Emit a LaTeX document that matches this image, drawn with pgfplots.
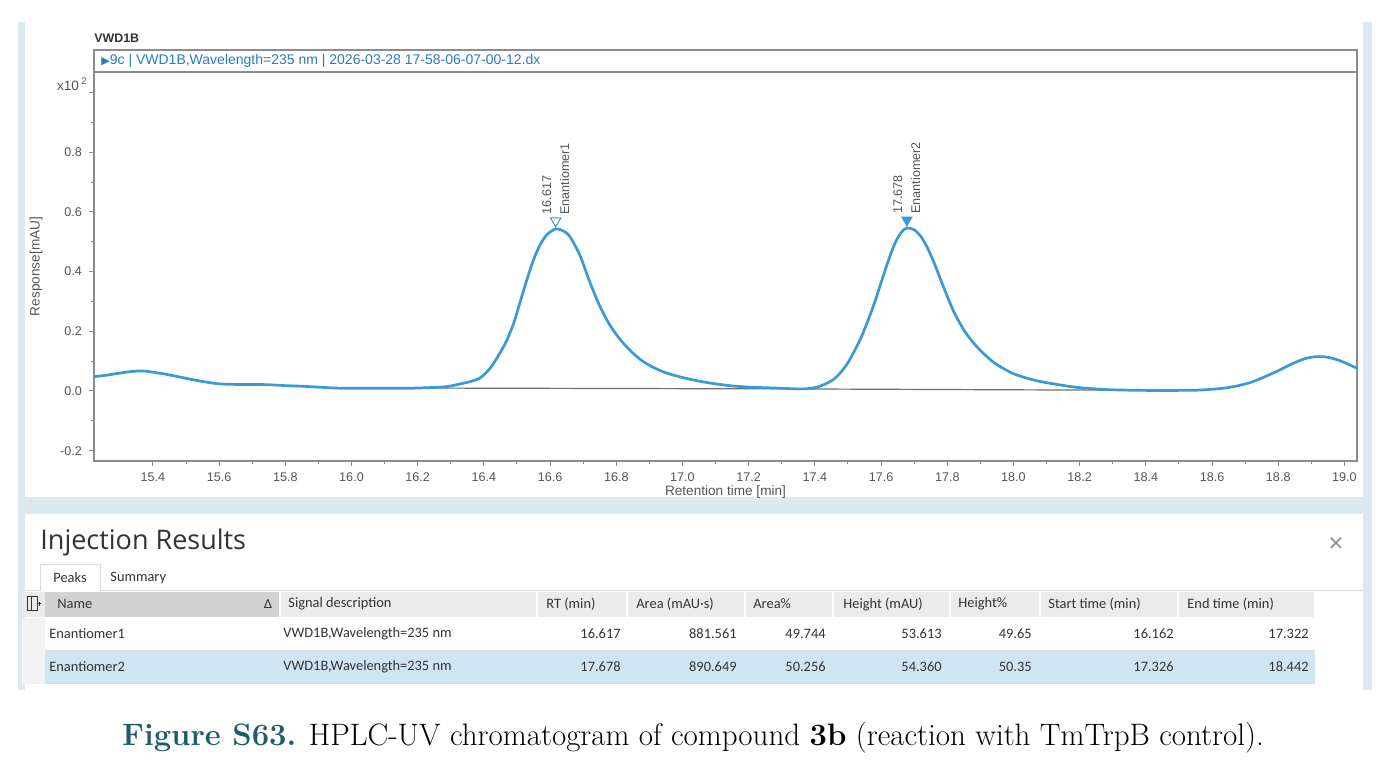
\documentclass[border=0pt]{standalone}
\usepackage{fontspec}
\newfontfamily\arial{Liberation Sans}
\newfontfamily\ui{Carlito}
\newfontfamily\uititle{Open Sans}
\newfontfamily\sym{DejaVu Sans}
\usepackage{pgfplots}
\pgfplotsset{compat=1.18}

\definecolor{trace}{HTML}{3A9AD6}
\definecolor{panelbg}{HTML}{DDE9F0}
\definecolor{axisgray}{HTML}{8C8C8C}
\definecolor{ticktext}{HTML}{555555}
\definecolor{headblue}{HTML}{2B7BBE}
\definecolor{hdrgray}{HTML}{EBEBEB}
\definecolor{namegray}{HTML}{D2D2D2}
\definecolor{selrow}{HTML}{CFE5F2}
\definecolor{cellline}{HTML}{DADADA}
\definecolor{tabtext}{HTML}{333333}
\definecolor{captal}{HTML}{1F5C6B}

% chromatogram trace (response in 10^2 mAU)
\pgfplotstableread{
t r
15.222 0.048
15.26 0.053
15.30 0.060
15.34 0.066
15.37 0.067
15.40 0.063
15.44 0.056
15.48 0.047
15.52 0.038
15.56 0.030
15.60 0.024
15.65 0.022
15.70 0.022
15.75 0.021
15.80 0.018
15.85 0.016
15.90 0.013
15.95 0.010
16.00 0.009
16.10 0.009
16.16 0.009
16.20 0.010
16.25 0.012
16.29 0.015
16.33 0.024
16.36 0.032
16.39 0.045
16.42 0.078
16.45 0.130
16.47 0.172
16.49 0.227
16.51 0.300
16.53 0.373
16.55 0.440
16.57 0.490
16.59 0.523
16.617 0.543
16.64 0.536
16.66 0.517
16.69 0.455
16.72 0.365
16.75 0.285
16.78 0.222
16.81 0.175
16.84 0.138
16.87 0.108
16.90 0.086
16.94 0.065
16.98 0.051
17.02 0.040
17.06 0.031
17.10 0.024
17.15 0.017
17.20 0.013
17.25 0.011
17.30 0.009
17.35 0.007
17.38 0.008
17.41 0.014
17.44 0.028
17.46 0.042
17.48 0.065
17.50 0.095
17.52 0.135
17.54 0.180
17.56 0.235
17.58 0.295
17.60 0.363
17.62 0.430
17.64 0.490
17.66 0.530
17.678 0.546
17.70 0.540
17.72 0.518
17.74 0.480
17.76 0.430
17.79 0.345
17.82 0.265
17.85 0.205
17.88 0.160
17.91 0.125
17.94 0.096
17.97 0.075
18.00 0.058
18.04 0.043
18.08 0.032
18.12 0.024
18.16 0.017
18.20 0.011
18.25 0.007
18.30 0.004
18.40 0.002
18.50 0.002
18.56 0.003
18.60 0.006
18.64 0.010
18.68 0.018
18.72 0.030
18.76 0.048
18.80 0.068
18.84 0.090
18.88 0.108
18.915 0.115
18.95 0.113
18.99 0.100
19.038 0.076
}\trace

\begin{document}
\begin{tikzpicture}[x=0.5pt,y=0.5pt]
% page and window frame (pixel grid, y measured upward)
\path[use as bounding box, fill=white] (0,0) rectangle (1385,770);
\fill[panelbg] (18,80) rectangle (1372,748);
\fill[white] (25,273) rectangle (1363,748);
\fill[white] (25,80) rectangle (1363,256);

% signal title and header strip
\node[anchor=west, font=\arial\bfseries\fontsize{6.2}{7}\selectfont, text=tabtext, inner sep=0pt] at (94,732) {VWD1B};
\draw[axisgray, line width=0.6pt] (94,698) rectangle (1357,720);
\node[anchor=west, inner sep=0pt, text=headblue] at (101,709)
  {{\sym\fontsize{5.5}{6}\selectfont ▶}{\arial\fontsize{7}{8}\selectfont 9c | VWD1B,Wavelength=235 nm | 2026-03-28 17-58-06-07-00-12.dx}};

\begin{axis}[
  at={(47pt,154.5pt)}, anchor=south west,
  width=631.5pt, height=194.5pt, scale only axis,
  xmin=15.222, xmax=19.038, ymin=-0.2345, ymax=1.0687,
  axis line style={axisgray, line width=0.6pt},
  xtick={15.4,15.6,15.8,16.0,16.2,16.4,16.6,16.8,17.0,17.2,17.4,17.6,17.8,18.0,18.2,18.4,18.6,18.8,19.0},
  ytick={-0.2,0,0.2,0.4,0.6,0.8,1.0},
  yticklabels={-0.2,0.0,0.2,0.4,0.6,0.8,{}},
  minor x tick num=1, minor y tick num=1,
  xtick pos=lower, ytick pos=left,
  tick align=outside,
  major tick length=2.5pt, minor tick length=1.5pt,
  tick style={axisgray, line width=0.5pt},
  /pgf/number format/assume math mode=true,
  xticklabel style={/pgf/number format/.cd, fixed, precision=1, zerofill},
  ticklabel style={font=\arial\fontsize{6.3}{7}\selectfont, text=ticktext},
  xlabel={Retention time [min]},
  ylabel={Response[mAU]},
  label style={font=\arial\fontsize{6.8}{7}\selectfont, text=ticktext},
  xlabel style={yshift=5pt},
  ylabel style={yshift=2pt},
  clip=false,
]
% integration baselines
\addplot[axisgray!80!black, line width=0.6pt] coordinates {(16.162,0.010) (17.322,0.007)};
\addplot[axisgray!80!black, line width=0.6pt] coordinates {(17.326,0.007) (18.442,0.002)};
% signal
\addplot[trace, line width=1.35pt, smooth, tension=0.5] table[x=t, y=r] {\trace};
% peak apex markers
\addplot[only marks, mark=triangle, mark size=3pt, trace, line width=0.5pt,
  mark options={yshift=4pt, rotate=180}] coordinates {(16.617,0.543)};
\addplot[only marks, mark=triangle*, mark size=3pt, trace,
  mark options={yshift=4pt, rotate=180}] coordinates {(17.678,0.546)};
\node[rotate=90, anchor=west, align=left, inner sep=0pt, font=\arial\fontsize{6.3}{9}\selectfont, text=ticktext]
  at (axis cs:16.617,0.543) [xshift=7pt] {16.617\\Enantiomer1};
\node[rotate=90, anchor=west, align=left, inner sep=0pt, font=\arial\fontsize{6.3}{9}\selectfont, text=ticktext]
  at (axis cs:17.678,0.546) [xshift=7pt] {17.678\\Enantiomer2};
\node[anchor=east, inner sep=0pt, font=\arial\fontsize{6.8}{7}\selectfont, text=ticktext]
  at (rel axis cs:0,0.969) [xshift=-3pt] {x10\,\textsuperscript{2}};
\end{axis}

% results panel
\node[anchor=west, inner sep=0pt, font=\uititle\fontsize{13.5}{14}\selectfont, text=tabtext] at (40,228) {Injection Results};
\node[inner sep=0pt, font=\uititle\fontsize{13}{14}\selectfont, text=axisgray] at (1336,225) {×};
\draw[cellline, line width=0.5pt] (25,179) -- (1363,179);
\draw[cellline, line width=0.5pt, fill=white] (40,179) -- (40,205) -- (100,205) -- (100,179);
\node[font=\ui\fontsize{7.2}{8}\selectfont, text=tabtext, inner sep=0pt] at (70,192) {Peaks};
\node[anchor=west, font=\ui\fontsize{7.2}{8}\selectfont, text=tabtext, inner sep=0pt] at (110,192) {Summary};

% table cells
\fill[hdrgray] (22,153) rectangle (1315,178);
\fill[namegray] (45,153) rectangle (280,178);
\fill[hdrgray!60!white] (22,86) rectangle (45,152);
\fill[selrow] (45,86) rectangle (1315,119);
\draw[cellline, line width=0.5pt] (45,119.5) -- (1315,119.5);
\draw[cellline, line width=0.5pt] (45,86) -- (1315,86);
\foreach \cx in {280,537,627,745,833,950,1040,1178,1315}
  \draw[white, line width=0.8pt] (\cx,153) -- (\cx,178);
\draw[tabtext, line width=0.5pt] (27,159) rectangle (37,173);
\draw[tabtext, line width=0.5pt] (31,159) -- (31,173);
\draw[tabtext, line width=0.5pt] (37,166) -- (41,166) (39,164) -- (39,168);

\begin{scope}[every node/.style={font=\ui\fontsize{7.2}{8}\selectfont, text=tabtext, inner sep=0pt}]
\node[anchor=west] at (57,166) {Name};
\node at (268,166) {\sym\fontsize{6}{7}\selectfont Δ};
\node[anchor=west] at (288,166) {Signal description};
\node[anchor=west] at (546,166) {RT (min)};
\node[anchor=west] at (636,166) {Area (mAU·s)};
\node[anchor=west] at (753,166) {Area\%};
\node[anchor=west] at (843,166) {Height (mAU)};
\node[anchor=west] at (958,166) {Height\%};
\node[anchor=west] at (1048,166) {Start time (min)};
\node[anchor=west] at (1187,166) {End time (min)};

\node[anchor=west] at (49,136) {Enantiomer1};
\node[anchor=west] at (283,136) {VWD1B,Wavelength=235 nm};
\node[anchor=east] at (621,136) {16.617};
\node[anchor=east] at (737,136) {881.561};
\node[anchor=east] at (826,136) {49.744};
\node[anchor=east] at (942,136) {53.613};
\node[anchor=east] at (1032,136) {49.65};
\node[anchor=east] at (1174,136) {16.162};
\node[anchor=east] at (1309,136) {17.322};

\node[anchor=west] at (49,103) {Enantiomer2};
\node[anchor=west] at (283,103) {VWD1B,Wavelength=235 nm};
\node[anchor=east] at (621,103) {17.678};
\node[anchor=east] at (737,103) {890.649};
\node[anchor=east] at (826,103) {50.256};
\node[anchor=east] at (942,103) {54.360};
\node[anchor=east] at (1032,103) {50.35};
\node[anchor=east] at (1174,103) {17.326};
\node[anchor=east] at (1309,103) {18.442};
\end{scope}

% caption
\node[inner sep=0pt, font=\fontsize{15.5}{16}\selectfont] at (693,32)
  {\textcolor{captal}{\textbf{Figure S63.}} HPLC-UV chromatogram of compound \textbf{3b} (reaction with TmTrpB control).};
\end{tikzpicture}
\end{document}
